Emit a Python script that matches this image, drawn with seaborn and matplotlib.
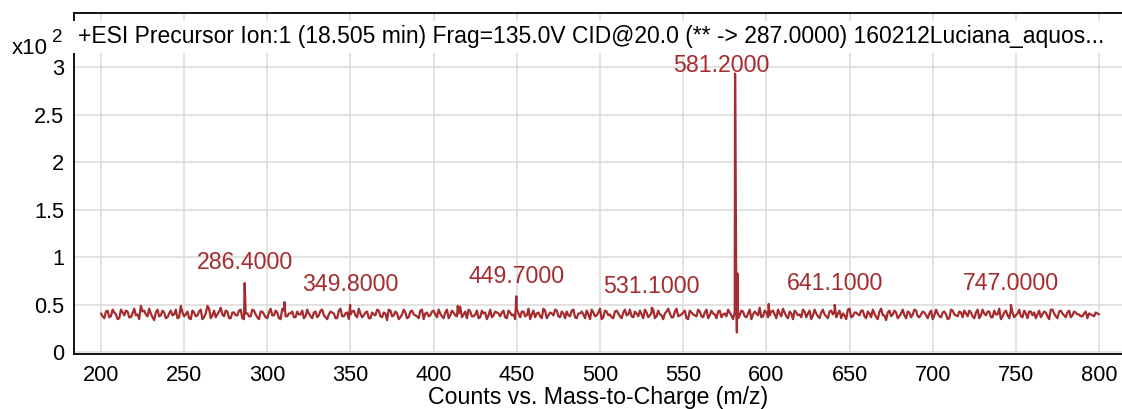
import numpy as np
import pandas as pd
import matplotlib
matplotlib.use("Agg")
import matplotlib.pyplot as plt
import seaborn as sns

# baseline noise in counts: even m/z 200..800
even_mz = np.arange(200, 801, 2)
even_counts = [
    41, 36, 44, 38, 42, 35, 45, 39, 43, 37, 46, 40, 49, 44, 38, 41, 34, 45, 39, 42,
    37, 44, 40, 36, 49, 38, 43, 35, 42, 39, 45, 37, 49, 36, 44, 40, 47, 38, 43, 36,
    42, 39, 45, 35, 41, 38, 44, 37, 43, 40, 36, 46, 39, 42, 35, 44, 38, 41, 37, 43,
    40, 36, 45, 38, 42, 37, 44, 39, 35, 43, 41, 36, 46, 38, 42, 40, 44, 37, 41, 39,
    43, 36, 40, 45, 38, 42, 34, 44, 39, 41, 37, 45, 36, 43, 40, 38, 44, 35, 42, 39,
    44, 37, 41, 36, 45, 39, 42, 38, 48, 40, 36, 43, 38, 44, 37, 41, 35, 45, 39, 42,
    38, 44, 36, 42, 40, 45, 37, 43, 39, 35, 44, 41, 38, 46, 36, 42, 39, 44, 37, 41,
    43, 38, 45, 36, 41, 40, 44, 35, 42, 39, 46, 37, 43, 40, 36, 44, 38, 42, 39, 45,
    37, 41, 44, 36, 42, 39, 45, 38, 40, 35, 43, 41, 37, 46, 39, 42, 36, 44, 40, 38,
    43, 37, 45, 39, 41, 36, 44, 40, 38, 42, 35, 44, 39, 43, 37, 45, 40, 41, 47, 38,
    42, 39, 44, 36, 41, 46, 38, 43, 35, 42, 40, 45, 37, 44, 39, 41, 36, 45, 38, 43,
    40, 37, 44, 41, 35, 46, 38, 42, 39, 44, 36, 41, 45, 37, 43, 39, 34, 44, 40, 42,
    38, 45, 36, 42, 40, 44, 37, 43, 39, 41, 35, 45, 38, 42, 40, 36, 44, 39, 43, 37,
    41, 44, 38, 42, 36, 45, 39, 43, 37, 40, 46, 38, 44, 36, 42, 39, 45, 37, 41, 43,
    39, 36, 44, 40, 42, 35, 45, 38, 43, 41, 37, 44, 39, 42, 40, 38, 43, 41, 39, 42,
    40,
]
# odd m/z 201..799
odd_mz = np.arange(201, 800, 2)
odd_counts = [
    38, 43, 37, 45, 40, 36, 42, 44, 37, 41, 39, 35, 43, 40, 46, 37, 42, 38, 44, 36,
    41, 39, 45, 37, 42, 40, 36, 44, 38, 43, 35, 41, 46, 39, 37, 43, 40, 44, 36, 42,
    39, 44, 36, 41, 38, 45, 40, 35, 43, 37, 42, 39, 44, 36, 46, 38, 41, 43, 37, 40,
    44, 38, 41, 36, 43, 39, 45, 37, 40, 42, 36, 44, 38, 41, 35, 43, 39, 46, 37, 42,
    36, 42, 39, 44, 37, 41, 45, 38, 43, 35, 40, 42, 37, 44, 39, 36, 45, 41, 38, 43,
    40, 45, 38, 42, 36, 44, 39, 41, 37, 43, 45, 38, 40, 36, 44, 42, 39, 37, 43, 41,
    42, 37, 44, 39, 35, 41, 43, 38, 46, 40, 37, 42, 36, 44, 39, 41, 45, 38, 43, 36,
    39, 44, 37, 41, 43, 36, 40, 45, 38, 42, 35, 44, 39, 37, 43, 41, 36, 45, 40, 38,
    43, 38, 40, 45, 37, 42, 36, 44, 39, 41, 46, 37, 43, 38, 40, 44, 35, 42, 39, 45,
    38, 42, 36, 44, 40, 43, 37, 41, 45, 39, 42, 36, 44, 38, 41, 35, 43, 39, 37, 44,
    37, 43, 40, 45, 38, 42, 36, 41, 44, 39, 37, 43, 41, 35, 45, 38, 42, 40, 36, 44,
    43, 41, 36, 39, 45, 37, 42, 40, 44, 38, 43, 37, 41, 35, 46, 39, 42, 38, 44, 36,
    41, 39, 43, 37, 45, 38, 40, 42, 36, 44, 39, 41, 37, 43, 35, 45, 40, 38, 42, 44,
    38, 42, 36, 45, 39, 41, 43, 37, 44, 40, 35, 42, 39, 45, 37, 41, 38, 44, 36, 43,
    42, 40, 37, 43, 38, 45, 41, 36, 44, 39, 42, 37, 43, 40, 38, 41, 36, 40, 38, 41,
]

# peaks
peak_mz = [286.4, 310.3, 349.8, 414.5, 449.7, 531.1, 581.2, 582.3, 582.6, 601.4, 641.1, 747.0]
peak_counts = [73, 53, 50, 49, 59, 47, 293, 21, 83, 51, 50, 50]

# labelled peaks
label_mz = [286.4, 349.8, 449.7, 531.1, 581.2, 641.1, 747.0]
label_counts = [73, 50, 59, 48, 289, 51, 51]

title = "+ESI Precursor Ion:1 (18.505 min) Frag=135.0V CID@20.0 (** -> 287.0000) 160212Luciana_aquos..."
xlabel = "Counts vs. Mass-to-Charge (m/z)"

df = pd.DataFrame({
    "mz": np.concatenate([even_mz, odd_mz, peak_mz]),
    "counts": np.concatenate([even_counts, odd_counts, peak_counts]),
}).sort_values("mz")
df["y"] = df["counts"] / 100.0

sns.set_style("white")
plt.rcParams["font.family"] = ["Liberation Sans", "DejaVu Sans"]
for k in ["text.color", "axes.labelcolor", "xtick.color", "ytick.color"]:
    plt.rcParams[k] = "black"

red = "#A62B2E"

fig = plt.figure(figsize=(11.22, 4.09), dpi=100)
ax = fig.add_axes([74 / 1122, 1 - 354 / 409, 1 - 74 / 1122, (354 - 13) / 409])

ax.grid(True, color="#dddddd", linewidth=1.2)
ax.set_axisbelow(True)

sns.lineplot(data=df, x="mz", y="y", color=red, linewidth=1.6, estimator=None, sort=True, ax=ax)

for mz, c in zip(label_mz, label_counts):
    dx = -8 if c > 200 else 0
    dy = 0.0 if c > 200 else 0.09
    ax.text(mz + dx, c / 100.0 + dy, f"{mz:.4f}", color=red, fontsize=16.7,
            ha="center", va="bottom", zorder=5)

ax.set_xlim(183.8, 813.8)
ax.set_ylim(-0.016, 3.567)
ax.set_xticks(np.arange(200, 801, 50))
ax.set_yticks([0, 0.5, 1, 1.5, 2, 2.5, 3])
ax.set_yticklabels(["0", "0.5", "1", "1.5", "2", "2.5", "3"])
ax.tick_params(axis="both", direction="out", length=5, width=1, color="black",
               labelsize=15.7, pad=2)
ax.tick_params(axis="x", pad=3)
ax.set_xlabel(xlabel, fontsize=16.7, labelpad=0)
ax.set_ylabel("")

for s in ["left", "bottom", "top"]:
    ax.spines[s].set_visible(True)
    ax.spines[s].set_color("black")
    ax.spines[s].set_linewidth(1.3)
ax.spines["right"].set_visible(False)

ax.text(4 / 1048, 0.93, title, transform=ax.transAxes, fontsize=16.5,
        ha="left", va="center", zorder=6,
        bbox=dict(facecolor="white", edgecolor="none", pad=3.5))

fig.text(12 / 1122, 1 - 48 / 409, "x10", fontsize=16, ha="left", va="center")
fig.text(52 / 1122, 1 - 37 / 409, "2", fontsize=13.5, ha="left", va="center")

fig.savefig("out.png", dpi=100)
